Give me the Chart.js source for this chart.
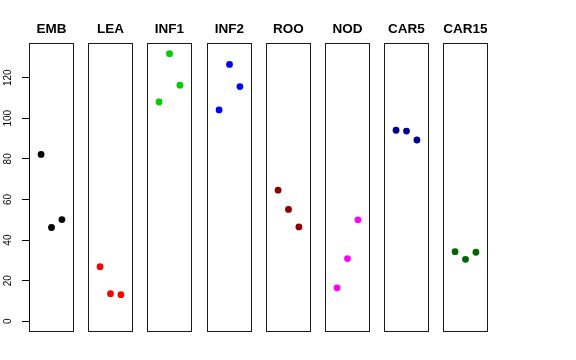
<!DOCTYPE html>
<html><head><meta charset="utf-8">
<script src="https://cdn.jsdelivr.net/npm/chart.js@4/dist/chart.umd.min.js"></script>
<style>
html,body{margin:0;padding:0;background:#fff;}
#wrap{position:relative;width:576px;height:360px;overflow:hidden;background:#fff;}
#wrap canvas{position:absolute;top:0;}
</style></head><body><div id="wrap"></div>
<script>
// ---- data ----
const panels = ["EMB","LEA","INF1","INF2","ROO","NOD","CAR5","CAR15"];
const colors = ["#000000","#FF0000","#00CD00","#0000FF","#8B0000","#FF00FF","#00008B","#006400"];
const xPositions = [1, 2, 3];
const EMB   = [82.2, 46.2, 50.1];
const LEA   = [26.9, 13.6, 13.1];
const INF1  = [108.0, 131.8, 116.3];
const INF2  = [104.1, 126.5, 115.6];
const ROO   = [64.6, 55.1, 46.5];
const NOD   = [16.5, 30.9, 50.0];
const CAR5  = [94.1, 93.7, 89.3];
const CAR15 = [34.3, 30.5, 34.0];
const yTickLabels = [0, 20, 40, 60, 80, 100, 120];
const seriesValues = [EMB, LEA, INF1, INF2, ROO, NOD, CAR5, CAR15];

// R-style axis limits (4% expansion)
const allVals = seriesValues.flat();
const yLo = 0, yHi = Math.max(...allVals);
const yPad = (yHi - yLo) * 0.04;
const xLo = 0, xHi = 4, xPad = (xHi - xLo) * 0.04;

const FONT = "'Liberation Sans', Arial, Helvetica, sans-serif";
const wrap = document.getElementById('wrap');
const PANEL_W = 45, AXIS_W = 29, H = 360;

const boxPlugin = {
  id: 'box',
  afterDraw(chart) {
    const a = chart.chartArea, ctx = chart.ctx;
    ctx.save();
    ctx.strokeStyle = '#1a1a1a';
    ctx.lineWidth = 1;
    ctx.strokeRect(a.left + 0.5, a.top + 0.5, a.right - a.left - 1, a.bottom - a.top - 1);
    if (chart.options.scales.y.display) {
      const y = chart.scales.y;
      ctx.strokeStyle = '#000';
      ctx.beginPath();
      ctx.moveTo(a.left + 0.5, y.getPixelForValue(yTickLabels[0]));
      ctx.lineTo(a.left + 0.5, y.getPixelForValue(yTickLabels[yTickLabels.length - 1]));
      ctx.stroke();
    }
    ctx.restore();
  }
};

panels.forEach((name, i) => {
  const first = i === 0;
  const boxLeft = Math.round(29 + i * 59.18);
  const cv = document.createElement('canvas');
  const w = first ? PANEL_W + AXIS_W : PANEL_W;
  cv.width = w; cv.height = H;
  cv.style.left = (first ? boxLeft - AXIS_W : boxLeft) + 'px';
  cv.style.width = w + 'px'; cv.style.height = H + 'px';
  wrap.appendChild(cv);

  const yScale = {
    type: 'linear', display: first,
    min: yLo - yPad, max: yHi + yPad,
    afterBuildTicks(scale) { scale.ticks = yTickLabels.map(v => ({ value: v })); },
    afterFit(scale) { scale.width = first ? AXIS_W : 0; },
    border: { display: false },
    grid: { display: first, drawOnChartArea: false, drawTicks: true, tickLength: first ? 7 : 0, color: '#000', lineWidth: 1 },
    ticks: {
      display: first,
      color: '#000', font: { family: FONT, size: 10 },
      minRotation: 90, maxRotation: 90, crossAlign: 'center', padding: 5.5,
      callback: v => String(v)
    }
  };

  new Chart(cv, {
    type: 'scatter',
    data: {
      datasets: [{
        data: xPositions.map((x, k) => ({ x: x, y: seriesValues[i][k] })),
        backgroundColor: colors[i],
        borderWidth: 0,
        pointRadius: 3.4,
        pointHoverRadius: 3.4
      }]
    },
    options: {
      responsive: false,
      animation: false,
      events: [],
      layout: { autoPadding: false, padding: { top: 0, bottom: 28, left: 0, right: 0 } },
      plugins: {
        legend: { display: false },
        tooltip: { enabled: false },
        title: {
          display: true,
          text: name,
          color: '#000',
          fullSize: false,
          font: { family: FONT, size: 13.5, weight: 'bold', lineHeight: 1.2 },
          padding: { top: 21.4, bottom: 5.4 }
        }
      },
      scales: {
        x: {
          type: 'linear', display: false,
          min: xLo - xPad, max: xHi + xPad,
          afterFit(scale) { scale.height = 0; }
        },
        y: yScale
      }
    },
    plugins: [boxPlugin]
  });
});
</script></body></html>
